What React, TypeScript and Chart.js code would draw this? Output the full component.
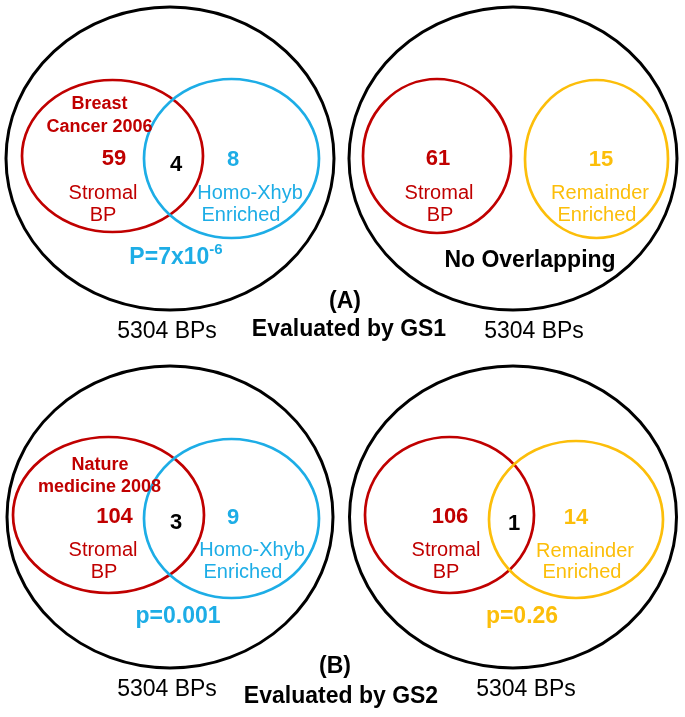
import React, { useEffect, useRef } from "react";
import { Chart, registerables } from "chart.js";

Chart.register(...registerables);

// ---------- data ----------
const panelIds = ["A1", "A2", "B1", "B2"];
const studyLabels = [["Breast", "Cancer 2006"], [], ["Nature", "medicine 2008"], []];
const leftOnlyCounts = [59, 61, 104, 106];
const overlapCounts: (number | null)[] = [4, null, 3, 1];
const rightOnlyCounts = [8, 15, 9, 14];
const leftSetNames = [["Stromal", "BP"], ["Stromal", "BP"], ["Stromal", "BP"], ["Stromal", "BP"]];
const rightSetNames = [
  ["Homo-Xhyb", "Enriched"],
  ["Remainder", "Enriched"],
  ["Homo-Xhyb", "Enriched"],
  ["Remainder", "Enriched"],
];
const pLabels = ["P=7x10", "No Overlapping", "p=0.001", "p=0.26"];
const pSuperscripts = ["-6", "", "", ""];
const universeSizes = [5304, 5304, 5304, 5304];
const sectionLabels = ["(A)", "(B)"];
const evaluatedBy = ["Evaluated by GS1", "Evaluated by GS2"];

// ---------- layout (positions in canvas coordinate units) ----------
const W = 685;
const H = 717;
const outerGeom = [
  { x: 170, y: 158.5, rx: 164, ry: 151.5 },
  { x: 513, y: 158.5, rx: 164, ry: 151.5 },
  { x: 170, y: 517, rx: 163, ry: 151 },
  { x: 513, y: 517, rx: 163.5, ry: 151 },
];
const leftGeom = [
  { x: 112.5, y: 156, rx: 90.5, ry: 76 },
  { x: 437, y: 156, rx: 74, ry: 77 },
  { x: 108.5, y: 515, rx: 95.5, ry: 78 },
  { x: 449.5, y: 515, rx: 84.5, ry: 78 },
];
const rightGeom = [
  { x: 231.5, y: 158.5, rx: 87.5, ry: 79.5 },
  { x: 596.5, y: 159, rx: 71.5, ry: 79 },
  { x: 231.5, y: 518.5, rx: 87.5, ry: 79.5 },
  { x: 576, y: 519.5, rx: 87, ry: 78.5 },
];
const textPos = [
  {
    study: [[99.5, 104], [99.5, 127]],
    left: [114, 159], overlap: [176, 165], right: [233, 160],
    leftName: [[103, 193], [103, 215]], rightName: [[250, 193], [241, 215]],
    p: [176, 258], universe: [167, 332],
  },
  {
    study: [],
    left: [438, 159], overlap: [0, 0], right: [601, 160],
    leftName: [[439, 193], [440, 215]], rightName: [[600, 193], [597, 215]],
    p: [530, 261], universe: [534, 332],
  },
  {
    study: [[100, 465], [99.5, 487]],
    left: [114.5, 517], overlap: [176, 523], right: [233, 518],
    leftName: [[103, 550], [104, 572]], rightName: [[252, 550], [243, 572]],
    p: [178, 617], universe: [167, 690],
  },
  {
    study: [],
    left: [450, 517], overlap: [514, 524], right: [576, 518],
    leftName: [[446, 550], [446, 572]], rightName: [[585, 551], [582, 572]],
    p: [522, 617], universe: [526, 690],
  },
];
const sectionPos = [[345, 302], [335, 667]];
const evaluatedPos = [[349, 330], [341, 697]];

// ---------- styles ----------
const RED = "#C00000";
const BLUE = "#1DADE6";
const GOLD = "#FCBE0A";
const BLACK = "#000000";
const rightColors = [BLUE, GOLD, BLUE, GOLD];
const pColors = [BLUE, BLACK, BLUE, GOLD];
const FONT = '"Liberation Sans", Arial, sans-serif';

const ellipsePlugin = {
  id: "ellipses",
  afterDatasetsDraw(chart: any) {
    const ctx = chart.ctx;
    const xs = chart.scales.x;
    const ys = chart.scales.y;
    chart.data.datasets.forEach((ds: any) => {
      ds.data.forEach((p: any) => {
        const cx = xs.getPixelForValue(p.x);
        const cy = ys.getPixelForValue(p.y);
        const rx = Math.abs(xs.getPixelForValue(p.x + p.rx) - cx);
        const ry = Math.abs(ys.getPixelForValue(p.y + p.ry) - cy);
        ctx.save();
        ctx.beginPath();
        ctx.ellipse(cx, cy, rx, ry, 0, 0, Math.PI * 2);
        ctx.lineWidth = ds.ringWidth;
        ctx.strokeStyle = ds.ringColor;
        ctx.stroke();
        ctx.restore();
      });
    });
  },
};

function drawText(chart: any, text: string, vx: number, vy: number, font: string, color: string, sup?: string, supFont?: string) {
  const ctx = chart.ctx;
  const px = chart.scales.x.getPixelForValue(vx);
  const py = chart.scales.y.getPixelForValue(vy);
  ctx.save();
  ctx.fillStyle = color;
  ctx.textBaseline = "middle";
  ctx.font = font;
  const w1 = ctx.measureText(text).width;
  let w2 = 0;
  if (sup) {
    ctx.font = supFont || font;
    w2 = ctx.measureText(sup).width;
  }
  const start = px - (w1 + w2) / 2;
  ctx.textAlign = "left";
  ctx.font = font;
  ctx.fillText(text, start, py);
  if (sup) {
    ctx.font = supFont || font;
    ctx.fillText(sup, start + w1, py - 8);
  }
  ctx.restore();
}

const textPlugin = {
  id: "vennText",
  afterDraw(chart: any) {
    const numFont = `bold 22px ${FONT}`;
    const nameFont = `20px ${FONT}`;
    const studyFont = `bold 18px ${FONT}`;
    const pFont = `bold 23px ${FONT}`;
    const uniFont = `23px ${FONT}`;
    panelIds.forEach((_, i) => {
      const tp = textPos[i];
      studyLabels[i].forEach((s, k) => drawText(chart, s, tp.study[k][0], tp.study[k][1], studyFont, RED));
      drawText(chart, String(leftOnlyCounts[i]), tp.left[0], tp.left[1], numFont, RED);
      if (overlapCounts[i] !== null) drawText(chart, String(overlapCounts[i]), tp.overlap[0], tp.overlap[1], numFont, BLACK);
      drawText(chart, String(rightOnlyCounts[i]), tp.right[0], tp.right[1], numFont, rightColors[i]);
      leftSetNames[i].forEach((s, k) => drawText(chart, s, tp.leftName[k][0], tp.leftName[k][1], nameFont, RED));
      rightSetNames[i].forEach((s, k) => drawText(chart, s, tp.rightName[k][0], tp.rightName[k][1], nameFont, rightColors[i]));
      drawText(chart, pLabels[i], tp.p[0], tp.p[1], pFont, pColors[i], pSuperscripts[i], `bold 15px ${FONT}`);
      drawText(chart, `${universeSizes[i]} BPs`, tp.universe[0], tp.universe[1], uniFont, BLACK);
    });
    sectionLabels.forEach((s, k) => drawText(chart, s, sectionPos[k][0], sectionPos[k][1], `bold 23px ${FONT}`, BLACK));
    evaluatedBy.forEach((s, k) => drawText(chart, s, evaluatedPos[k][0], evaluatedPos[k][1], `bold 23px ${FONT}`, BLACK));
  },
};

export default function App() {
  const ref = useRef<HTMLCanvasElement | null>(null);
  useEffect(() => {
    if (!ref.current) return;
    const chart = new Chart(ref.current, {
      type: "scatter",
      data: {
        datasets: [
          { label: "All BPs", data: outerGeom.map((g) => ({ ...g })), pointRadius: 0, ringColor: BLACK, ringWidth: 3 } as any,
          { label: "Stromal BP", data: leftGeom.map((g) => ({ ...g })), pointRadius: 0, ringColor: RED, ringWidth: 2.7 } as any,
          { label: "Enriched", data: rightGeom.slice(0, 1).concat(rightGeom.slice(2, 3)).map((g) => ({ ...g })), pointRadius: 0, ringColor: BLUE, ringWidth: 2.7 } as any,
          { label: "Remainder", data: [rightGeom[1], rightGeom[3]].map((g) => ({ ...g })), pointRadius: 0, ringColor: GOLD, ringWidth: 2.7 } as any,
        ],
      },
      options: {
        animation: false,
        responsive: false,
        devicePixelRatio: 1,
        layout: { padding: 0 },
        plugins: { legend: { display: false }, tooltip: { enabled: false }, title: { display: false } },
        scales: {
          x: { type: "linear", min: 0, max: W, display: false },
          y: { type: "linear", min: 0, max: H, reverse: true, display: false },
        },
      },
      plugins: [ellipsePlugin, textPlugin],
    });
    return () => chart.destroy();
  }, []);
  return (
    <div style={{ position: "absolute", left: 0, top: 0, width: W, height: H, background: "#fff" }}>
      <canvas ref={ref} width={W} height={H} style={{ width: W, height: H }} />
    </div>
  );
}
